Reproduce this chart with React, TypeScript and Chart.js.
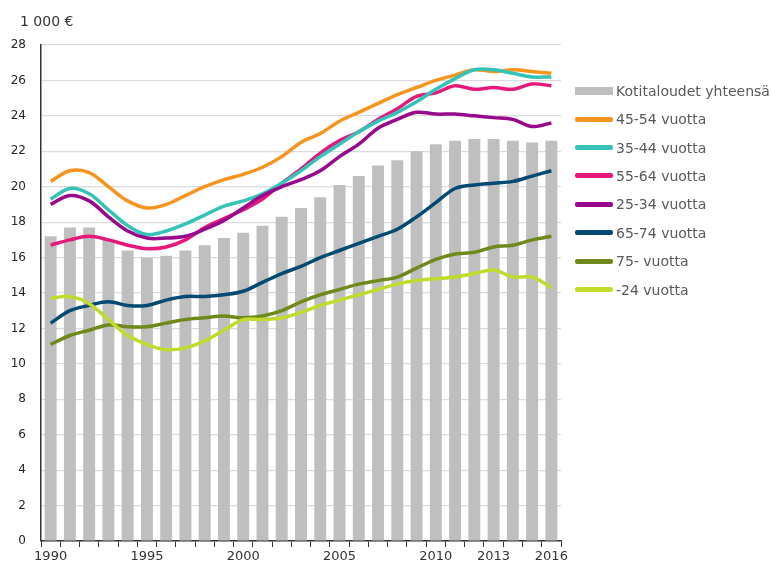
import React, { useEffect, useRef } from "react";
import { Chart, registerables } from "chart.js";

Chart.register(...registerables);

const years = [
  "1990", "1991", "1992", "1993", "1994", "1995", "1996", "1997", "1998", "1999",
  "2000", "2001", "2002", "2003", "2004", "2005", "2006", "2007", "2008", "2009",
  "2010", "2011", "2012", "2013", "2014", "2015", "2016",
];
const shownYearLabels = ["1990", "1995", "2000", "2005", "2010", "2013", "2016"];

const yTicks = { min: 0, max: 28, step: 2 };
const yUnit = "1 000 €";

const totalAll = [17.2, 17.7, 17.7, 17.0, 16.4, 16.0, 16.1, 16.4, 16.7, 17.1, 17.4, 17.8, 18.3, 18.8, 19.4, 20.1, 20.6, 21.2, 21.5, 22.0, 22.4, 22.6, 22.7, 22.7, 22.6, 22.5, 22.6];
const age45to54 = [20.3, 20.9, 20.8, 20.0, 19.2, 18.8, 19.0, 19.5, 20.0, 20.4, 20.7, 21.1, 21.7, 22.5, 23.0, 23.7, 24.2, 24.7, 25.2, 25.6, 26.0, 26.3, 26.6, 26.5, 26.6, 26.5, 26.4];
const age35to44 = [19.3, 19.9, 19.6, 18.7, 17.8, 17.3, 17.5, 17.9, 18.4, 18.9, 19.2, 19.6, 20.2, 20.9, 21.7, 22.4, 23.1, 23.7, 24.2, 24.8, 25.5, 26.1, 26.6, 26.6, 26.4, 26.2, 26.2];
const age55to64 = [16.7, 17.0, 17.2, 17.0, 16.7, 16.5, 16.6, 17.0, 17.7, 18.2, 18.7, 19.3, 20.2, 21.0, 21.9, 22.6, 23.1, 23.8, 24.4, 25.1, 25.3, 25.7, 25.5, 25.6, 25.5, 25.8, 25.7];
const age25to34 = [19.0, 19.5, 19.2, 18.3, 17.5, 17.1, 17.1, 17.2, 17.6, 18.1, 18.8, 19.5, 20.0, 20.4, 20.9, 21.7, 22.4, 23.3, 23.8, 24.2, 24.1, 24.1, 24.0, 23.9, 23.8, 23.4, 23.6];
const age65to74 = [12.3, 13.0, 13.3, 13.5, 13.3, 13.3, 13.6, 13.8, 13.8, 13.9, 14.1, 14.6, 15.1, 15.5, 16.0, 16.4, 16.8, 17.2, 17.6, 18.3, 19.1, 19.9, 20.1, 20.2, 20.3, 20.6, 20.9];
const age75plus = [11.1, 11.6, 11.9, 12.2, 12.1, 12.1, 12.3, 12.5, 12.6, 12.7, 12.6, 12.7, 13.0, 13.5, 13.9, 14.2, 14.5, 14.7, 14.9, 15.4, 15.9, 16.2, 16.3, 16.6, 16.7, 17.0, 17.2];
const ageUnder24 = [13.7, 13.8, 13.4, 12.5, 11.6, 11.1, 10.8, 10.9, 11.3, 11.9, 12.5, 12.5, 12.6, 12.9, 13.3, 13.6, 13.9, 14.2, 14.5, 14.7, 14.8, 14.9, 15.1, 15.3, 14.9, 14.9, 14.3];

const barSeries = { label: "Kotitaloudet yhteensä", data: totalAll, color: "#bfbfbf" };
const lineSeries = [
  { label: "45-54 vuotta", data: age45to54, color: "#f7941d" },
  { label: "35-44 vuotta", data: age35to44, color: "#33c3b9" },
  { label: "55-64 vuotta", data: age55to64, color: "#e5187b" },
  { label: "25-34 vuotta", data: age25to34, color: "#98098c" },
  { label: "65-74 vuotta", data: age65to74, color: "#024a72" },
  { label: "75- vuotta", data: age75plus, color: "#6f8a1b" },
  { label: "-24 vuotta", data: ageUnder24, color: "#c2da2b" },
];
const drawOrder = [3, 2, 4, 1, 5, 6, 0]; // z-order: lower drawn on top

const FONT = "'DejaVu Sans', Verdana, sans-serif";

export default function App() {
  const ref = useRef<HTMLCanvasElement | null>(null);

  useEffect(() => {
    if (!ref.current) return;
    const chart = new Chart(ref.current, {
      type: "bar",
      data: {
        labels: years,
        datasets: [
          ...lineSeries.map((s, i) => ({
            type: "line" as const,
            label: s.label,
            data: s.data,
            borderColor: s.color,
            backgroundColor: s.color,
            borderWidth: 3.5,
            pointRadius: 0,
            tension: 0.35,
            order: drawOrder[i],
          })),
          {
            type: "bar" as const,
            label: barSeries.label,
            data: barSeries.data,
            backgroundColor: barSeries.color,
            categoryPercentage: 1,
            barPercentage: 0.62,
            order: 100,
          },
        ],
      },
      options: {
        responsive: false,
        animation: false,
        layout: { padding: { top: 45, right: 211, left: 0, bottom: 0 } },
        plugins: { legend: { display: false }, tooltip: { enabled: false } },
        scales: {
          x: {
            offset: true,
            grid: {
              offset: true,
              drawOnChartArea: false,
              drawTicks: true,
              tickLength: 6,
              color: "#333333",
            },
            border: { display: true, color: "#333333", width: 1.5 },
            ticks: {
              autoSkip: false,
              maxRotation: 0,
              minRotation: 0,
              padding: 2,
              color: "#333333",
              font: { family: FONT, size: 13 },
              callback: (_v: any, idx: number) =>
                shownYearLabels.includes(years[idx]) ? years[idx] : "",
            },
            afterFit: (scale: any) => {
              scale.height = 25;
            },
          },
          y: {
            min: yTicks.min,
            max: yTicks.max,
            grid: { color: "#dcdcdc", drawTicks: false, lineWidth: 1.2 },
            border: { display: true, color: "#333333", width: 1.5 },
            ticks: {
              stepSize: yTicks.step,
              padding: 15,
              color: "#262626",
              font: { family: FONT, size: 12 },
            },
            afterFit: (scale: any) => {
              scale.width = 41;
            },
          },
        },
      },
    });
    return () => chart.destroy();
  }, []);

  const legendItems = [
    { label: barSeries.label, color: barSeries.color, bar: true },
    ...lineSeries.map((s) => ({ label: s.label, color: s.color, bar: false })),
  ];

  return (
    <div
      style={{
        position: "absolute",
        left: 0,
        top: 0,
        width: 772,
        height: 566,
        overflow: "hidden",
        background: "#ffffff",
      }}
    >
      <canvas ref={ref} width={772} height={566} style={{ position: "absolute", left: 0, top: 0 }} />
      <div
        style={{
          position: "absolute",
          left: 20,
          top: 13,
          fontFamily: FONT,
          fontSize: 14,
          color: "#333333",
          whiteSpace: "nowrap",
        }}
      >
        {yUnit}
      </div>
      {legendItems.map((it, i) => (
        <div
          key={it.label}
          style={{
            position: "absolute",
            left: 575,
            top: 90.7 + i * 28.4 - 10,
            height: 20,
            display: "flex",
            alignItems: "center",
            whiteSpace: "nowrap",
            fontFamily: FONT,
            fontSize: 14,
            color: "#595959",
          }}
        >
          <span
            style={{
              display: "inline-block",
              width: 38,
              height: it.bar ? 8 : 5,
              background: it.color,
              borderRadius: it.bar ? 0 : 2,
              marginRight: 3,
            }}
          />
          <span>{it.label}</span>
        </div>
      ))}
    </div>
  );
}
